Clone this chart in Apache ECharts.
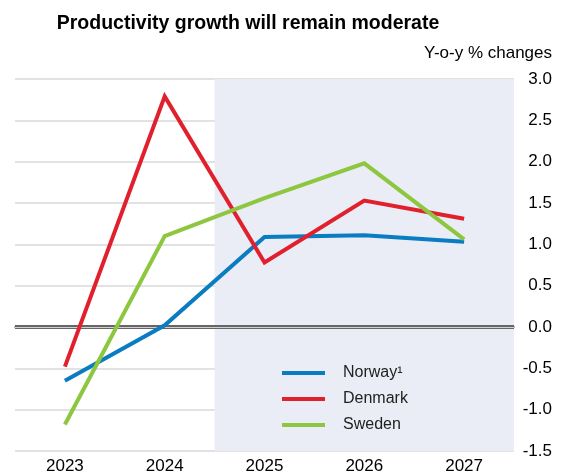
<!DOCTYPE html>
<html>
<head>
<meta charset="utf-8">
<script src="https://cdn.jsdelivr.net/npm/echarts@6/dist/echarts.min.js"></script>
<style>
  html, body { margin: 0; padding: 0; background: #fff; }
  #chart { width: 561px; height: 475px; }
</style>
</head>
<body>
<div id="chart"></div>
<script>
// Annual productivity growth, y-o-y % changes
const years = ['2023', '2024', '2025', '2026', '2027'];
const norway = [-0.65, 0.02, 1.09, 1.11, 1.03];
const denmark = [-0.48, 2.79, 0.78, 1.53, 1.31];
const sweden = [-1.18, 1.10, 1.56, 1.98, 1.06];
const yTicks = { min: -1.5, max: 3.0, step: 0.5 };
// Projection period starts halfway between 2024 and 2025 (category index units)
const projectionSpan = [1.5, 4.5];

const chart = echarts.init(document.getElementById('chart'), null, { renderer: 'canvas' });

const font = 'Liberation Sans, Arial, sans-serif';

const lineSeries = (name, data, color) => ({
  name, type: 'line', data,
  xAxisIndex: 0, yAxisIndex: 0,
  symbol: 'none', z: 5,
  lineStyle: { color, width: 4, cap: 'butt', join: 'miter' },
  itemStyle: { color }
});

chart.setOption({
  animation: false,
  title: {
    text: 'Productivity growth will remain moderate',
    left: 243, textAlign: 'center', top: 9,
    textStyle: { fontFamily: font, fontSize: 19.5, fontWeight: 'bold', color: '#000' }
  },
  graphic: [{
    type: 'text', right: 9, top: 45,
    style: { text: 'Y-o-y % changes', font: '17px ' + font, fill: '#000' }
  }],
  grid: { left: 15, right: 47, top: 79, bottom: 21 },
  legend: {
    orient: 'vertical', left: 277, top: 360, itemGap: 10,
    itemWidth: 43, itemHeight: 4, icon: 'rect',
    textStyle: { fontFamily: font, fontSize: 16, color: '#222', padding: [0, 0, 0, 13] },
    data: ['Norway¹', 'Denmark', 'Sweden']
  },
  xAxis: [{
    type: 'category', data: years, boundaryGap: true,
    axisLine: { lineStyle: { color: '#555', width: 1.5 } },
    axisTick: { inside: true, length: 9, lineStyle: { color: '#555', width: 1.5 } },
    axisLabel: { fontFamily: font, fontSize: 17, color: '#000', margin: 7 },
    splitLine: { show: false }
  }, {
    type: 'value', min: -0.5, max: 4.5, show: false
  }],
  yAxis: {
    type: 'value', position: 'right',
    min: yTicks.min, max: yTicks.max, interval: yTicks.step,
    axisLine: { show: false }, axisTick: { show: false },
    axisLabel: {
      fontFamily: font, fontSize: 17, color: '#000', margin: 38, align: 'right',
      formatter: v => v.toFixed(1)
    },
    splitLine: { lineStyle: { color: '#d9d9d9', width: 1.5 } }
  },
  series: [
    {
      name: 'projection', type: 'line', data: [],
      xAxisIndex: 1, yAxisIndex: 0, silent: true,
      markArea: {
        silent: true,
        itemStyle: { color: '#eaedf5' },
        data: [[{ xAxis: projectionSpan[0], yAxis: yTicks.min }, { xAxis: projectionSpan[1], yAxis: yTicks.max }]]
      },
      z: 1
    },
    {
      name: 'zero', type: 'line', data: [],
      xAxisIndex: 0, yAxisIndex: 0, silent: true, z: 3,
      markLine: {
        silent: true, symbol: 'none', label: { show: false },
        data: [
          { yAxis: 0, lineStyle: { color: '#666', width: 4, type: 'solid' } },
          { yAxis: 0, lineStyle: { color: '#cfcfcf', width: 1, type: 'solid' } }
        ]
      }
    },
    lineSeries('Norway¹', norway, '#0a7cc1'),
    lineSeries('Denmark', denmark, '#e0202d'),
    lineSeries('Sweden', sweden, '#8dc63f')
  ]
});
</script>
</body>
</html>
